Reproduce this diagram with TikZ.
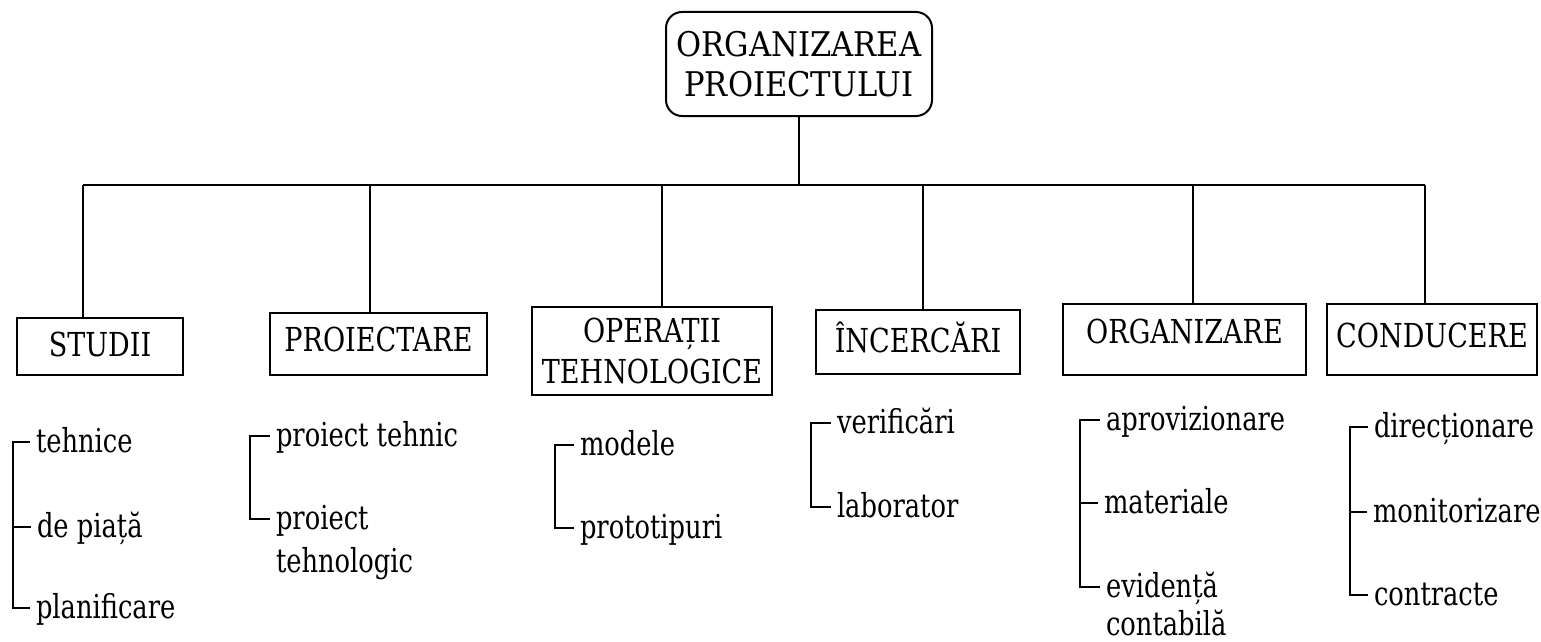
\documentclass[tikz,border=0pt]{standalone}
\usepackage{fontspec}
\setmainfont{DejaVu Serif}
\newcommand\myCapS[1]{\scalebox{0.82}[1]{#1}}
\newcommand\myRootS[1]{\scalebox{0.9}[1]{#1}}
\newcommand\myLowS[1]{\scalebox{0.78}[1]{#1}}
\begin{document}
\begin{tikzpicture}[x=1pt,y=-1pt,line width=2pt,
  boxm/.style={draw,inner sep=0pt,font=\fontsize{33pt}{41pt}\selectfont,align=center},
  boxs/.style={draw,inner sep=0pt,font=\fontsize{33pt}{41pt}\selectfont,text height=24pt},
  item/.style={anchor=base west,inner xsep=5pt,inner ysep=0pt,font=\fontsize{33pt}{43pt}\selectfont}]
\useasboundingbox (0,0) rectangle (1541,642);
% root
\node[boxm,font=\fontsize{34pt}{40pt}\selectfont,rounded corners=16pt,minimum width=266pt,minimum height=104pt] (root) at (799,64) {\myRootS{ORGANIZAREA}\\\myRootS{PROIECTULUI}};
% children
\node[boxs,minimum width=166pt,minimum height=57pt,text depth=5pt] (studii) at (100,346.5) {\myCapS{STUDII}};
\node[boxs,minimum width=217pt,minimum height=62pt,text depth=10pt] (proiect) at (378.5,344) {\myCapS{PROIECTARE}};
\node[boxm,minimum width=240pt,minimum height=88pt] (oper) at (652,351) {\myCapS{OPERAȚII}\\\myCapS{TEHNOLOGICE}};
\node[boxs,minimum width=204pt,minimum height=64pt,text depth=4pt] (incerc) at (918,342) {\myCapS{ÎNCERCĂRI}};
\node[boxs,minimum width=243pt,minimum height=71pt,text depth=17pt] (organiz) at (1184.5,339.5) {\myCapS{ORGANIZARE}};
\node[boxs,minimum width=210pt,minimum height=71pt,text depth=9pt] (conduc) at (1432,339.5) {\myCapS{CONDUCERE}};
% tree connectors
\coordinate (bus) at (799,185);
\coordinate (d1) at (83,185);
\coordinate (d2) at (370,185);
\coordinate (d3) at (662,185);
\coordinate (d4) at (923,185);
\coordinate (d5) at (1193,185);
\coordinate (d6) at (1425,185);
\draw (root.south) -- (bus);
\draw (d1) -- (d6);
\draw (d1) -- (d1 |- studii.north);
\draw (d2) -- (d2 |- proiect.north);
\draw (d3) -- (d3 |- oper.north);
\draw (d4) -- (d4 |- incerc.north);
\draw (d5) -- (d5 |- organiz.north);
\draw (d6) -- (d6 |- conduc.north);
% STUDII items
\node[item] (s1) at (30,452) {\myLowS{tehnice}};
\node[item] (s2) at (31,537) {\myLowS{de piață}};
\node[item] (s3) at (30,618) {\myLowS{planificare}};
\draw ([yshift=10pt]s1.base west) -- ++(-17,0) |- ([yshift=10pt]s3.base west);
\draw ([yshift=10pt]s2.base west) -- ++(-18,0);
% PROIECTARE items
\node[item] (p1) at (270,446) {\myLowS{proiect tehnic}};
\node[item] (p2) at (270,529) {\begin{tabular}[t]{@{}l@{}}\myLowS{proiect}\\\myLowS{tehnologic}\end{tabular}};
\draw ([yshift=10pt]p1.base west) -- ++(-20,0) |- ([yshift=10pt]p2.base west);
% OPERATII items
\node[item] (o1) at (574,455) {\myLowS{modele}};
\node[item] (o2) at (574,538) {\myLowS{prototipuri}};
\draw ([yshift=10pt]o1.base west) -- ++(-19,0) |- ([yshift=10pt]o2.base west);
% INCERCARI items
\node[item] (i1) at (831,433) {\myLowS{verificări}};
\node[item] (i2) at (831,517) {\myLowS{laborator}};
\draw ([yshift=10pt]i1.base west) -- ++(-20,0) |- ([yshift=10pt]i2.base west);
% ORGANIZARE items
\node[item] (g1) at (1100,430) {\myLowS{aprovizionare}};
\node[item] (g2) at (1098,513) {\myLowS{materiale}};
\node[item] (g3) at (1100,597) {\begin{tabular}[t]{@{}l@{}}\myLowS{evidență}\\[-5pt]\myLowS{contabilă}\end{tabular}};
\draw ([yshift=10pt]g1.base west) -- ++(-20,0) |- ([yshift=10pt]g3.base west);
\draw ([yshift=10pt]g2.base west) -- ++(-18,0);
% CONDUCERE items
\node[item] (c1) at (1368,437) {\myLowS{direcționare}};
\node[item] (c2) at (1367,522) {\myLowS{monitorizare}};
\node[item] (c3) at (1368,605) {\myLowS{contracte}};
\draw ([yshift=10pt]c1.base west) -- ++(-18,0) |- ([yshift=10pt]c3.base west);
\draw ([yshift=10pt]c2.base west) -- ++(-17,0);
\end{tikzpicture}
\end{document}
